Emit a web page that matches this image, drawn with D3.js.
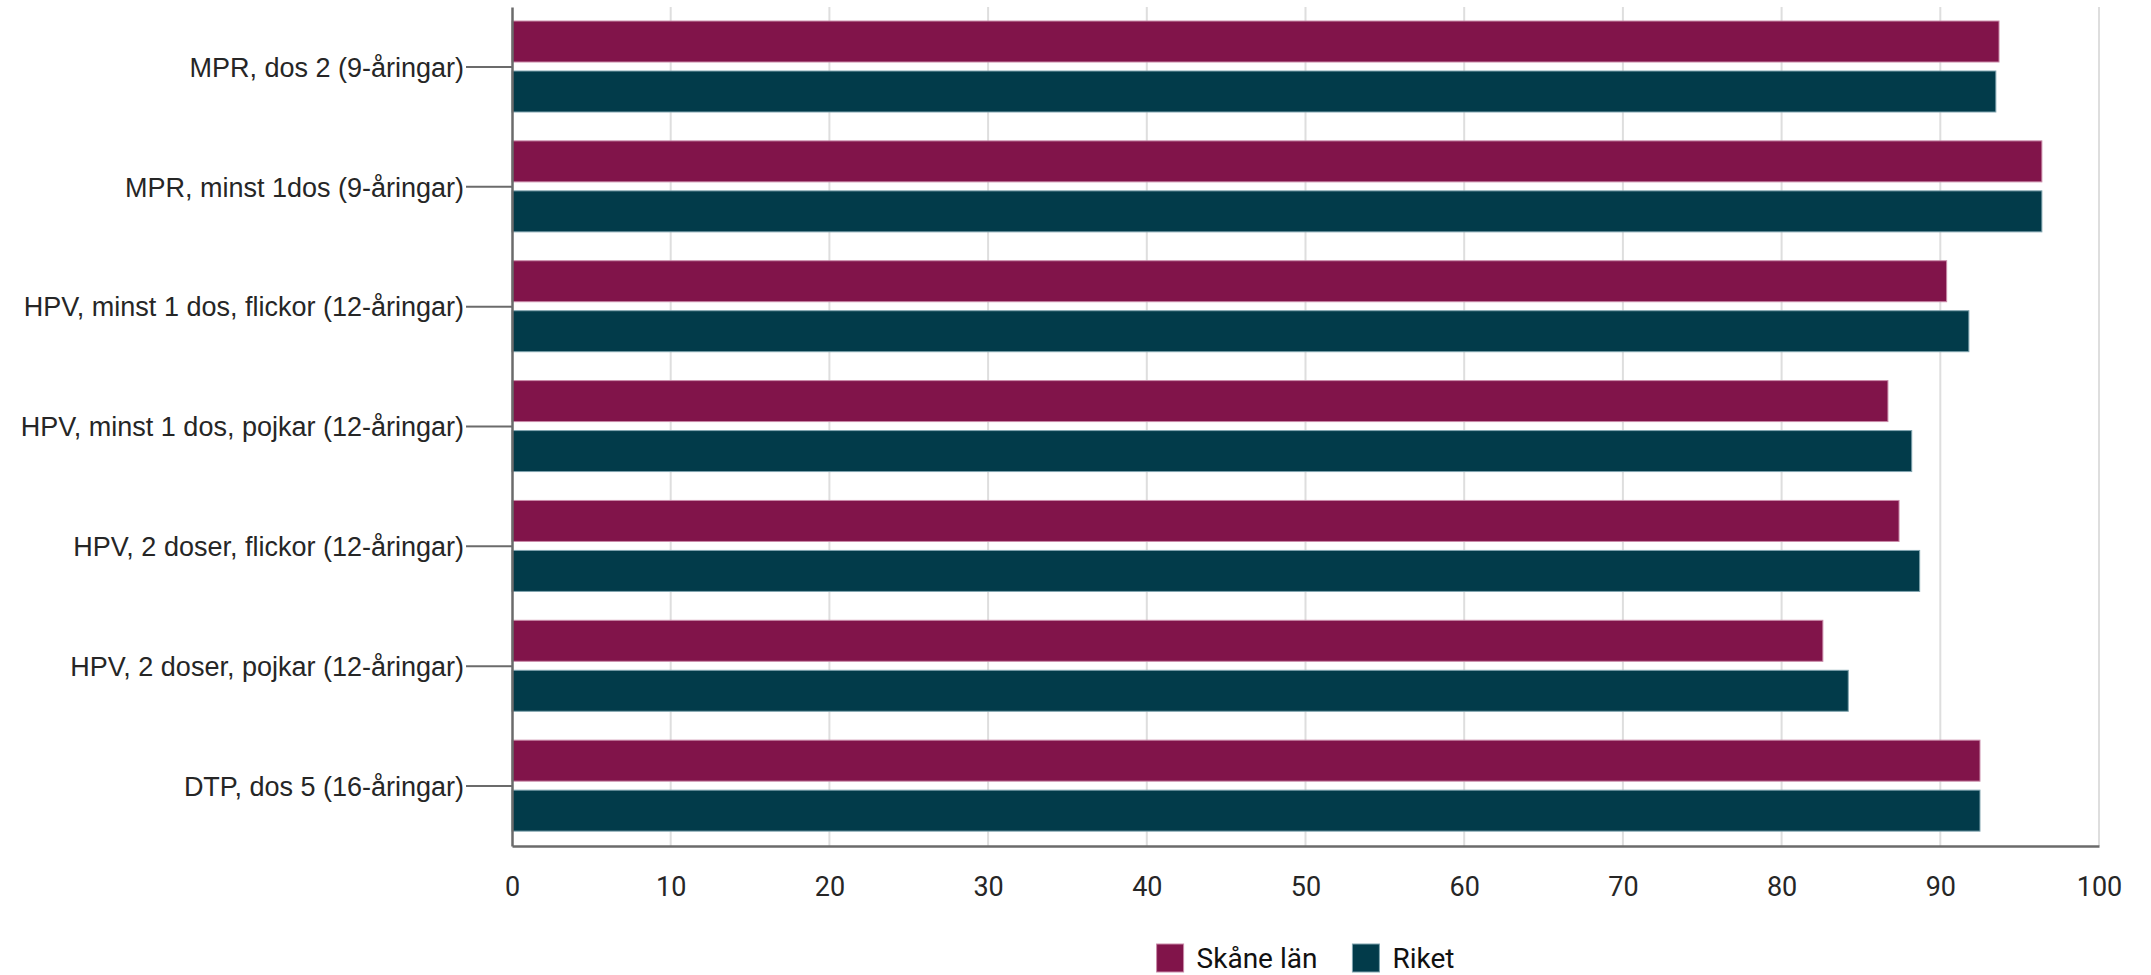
<html>
<head>
  <title>Vaccinationstäckning</title>
  <script src="https://d3js.org/d3.v7.min.js"></script>
  <meta charset="utf-8">
</head>

<style>
  body {
    margin: 0;
    background: #fff;
  }

  .axis--x text {
    font: 27px Roboto, sans-serif;
    fill: #262626;
  }

  .legend text {
    font: 28px Roboto, sans-serif;
    fill: #111;
  }
</style>

<body>
  <div class="chart"></div>

  <script>
    var categories = [
      "MPR, dos 2 (9-åringar)",
      "MPR, minst 1dos (9-åringar)",
      "HPV, minst 1 dos, flickor (12-åringar)",
      "HPV, minst 1 dos, pojkar (12-åringar)",
      "HPV, 2 doser, flickor (12-åringar)",
      "HPV, 2 doser, pojkar (12-åringar)",
      "DTP, dos 5 (16-åringar)"
    ];
    var seriesNames = ["Skåne län", "Riket"];
    var skane = [93.7, 96.4, 90.4, 86.7, 87.4, 82.6, 92.5];
    var riket = [93.5, 96.4, 91.8, 88.2, 88.7, 84.2, 92.5];
    var xTicks = [0, 10, 20, 30, 40, 50, 60, 70, 80, 90, 100];

    var colors = ["#81144a", "#023b4a"];
    var strokes = ["#c98aa8", "#7fa3ae"];

    var margin = {top: 7, right: 52, bottom: 129, left: 512};
    var width = 2151 - margin.left - margin.right;
    var height = 975 - margin.top - margin.bottom;

    var svg = d3.select('.chart')
      .append('svg')
        .attr('width', 2151)
        .attr('height', 975);

    var g = svg.append("g")
      .attr("transform", "translate(" + margin.left + "," + margin.top + ")");

    var x = d3.scaleLinear().domain([0, 100]).range([0, width]);

    var y0 = d3.scaleBand().domain(categories).range([0, height]).padding(0);

    // bars inside each category band
    var y1 = d3.scaleBand()
      .domain(seriesNames)
      .range([y0.bandwidth() * 0.117, y0.bandwidth() * 0.876])
      .paddingInner(0.18);

    var rows = categories.map(function(c, i) {
      return {category: c, values: [skane[i], riket[i]]};
    });

    // gridlines
    g.append("g")
        .attr("class", "grid")
      .selectAll("line")
      .data(xTicks.slice(1))
      .enter().append("line")
        .attr("x1", function(d) { return x(d); })
        .attr("x2", function(d) { return x(d); })
        .attr("y1", 0)
        .attr("y2", height)
        .style("stroke", "#dedede")
        .style("stroke-width", 2);

    var group = g.selectAll(".row")
      .data(rows)
      .enter().append("g")
        .attr("class", "row")
        .attr("transform", function(d) { return "translate(0," + y0(d.category) + ")"; });

    group.selectAll("rect")
      .data(function(d) { return d.values.map(function(v, j) { return {key: seriesNames[j], value: v, j: j}; }); })
      .enter().append("rect")
        .attr("x", x(0))
        .attr("y", function(d) { return y1(d.key); })
        .attr("width", function(d) { return x(d.value) - x(0); })
        .attr("height", y1.bandwidth())
        .style("fill", function(d) { return colors[d.j]; })
        .style("stroke", function(d) { return strokes[d.j]; })
        .style("stroke-width", 1);

    // x axis
    var xAxis = g.append("g")
        .attr("class", "axis axis--x")
        .attr("transform", "translate(0," + height + ")")
        .call(d3.axisBottom(x).tickValues(xTicks).tickSize(0).tickPadding(31));
    xAxis.select(".domain")
        .style("stroke", "#6b6b6b")
        .style("stroke-width", 2.5);

    // y axis
    var yAxis = g.append("g")
        .attr("class", "axis axis--y")
        .call(d3.axisLeft(y0).tickSize(46).tickPadding(2).tickSizeOuter(0));
    yAxis.select(".domain")
        .style("stroke", "#6b6b6b")
        .style("stroke-width", 2.5);
    yAxis.selectAll(".tick line")
        .style("stroke", "#6b6b6b")
        .style("stroke-width", 2);
    yAxis.selectAll(".tick text")
        .attr("dy", "0.36em")
        .style("font-family", "'Liberation Sans', Arimo, Arial, Helvetica")
        .style("font-size", "27px")
        .style("fill", "#262626");

    // legend, centred under the plot
    var legend = svg.append("g").attr("class", "legend");
    var items = legend.selectAll(".item")
      .data(seriesNames)
      .enter().append("g")
        .attr("class", "item");

    items.append("rect")
        .attr("width", 27)
        .attr("height", 28)
        .attr("y", -14)
        .style("fill", function(d, i) { return colors[i]; })
        .style("stroke", function(d, i) { return strokes[i]; })
        .style("stroke-width", 1);

    items.append("text")
        .attr("x", 40)
        .attr("dy", "0.36em")
        .text(function(d) { return d; });

    var offset = 0;
    var positions = [];
    items.each(function() {
      var w = this.getBBox().width;
      positions.push(offset);
      offset += w + 35;
    });
    var total = offset - 35;
    var startX = margin.left + width / 2 - total / 2;
    items.attr("transform", function(d, i) { return "translate(" + (startX + positions[i]) + ",958)"; });
  </script>

</body>
</html>
